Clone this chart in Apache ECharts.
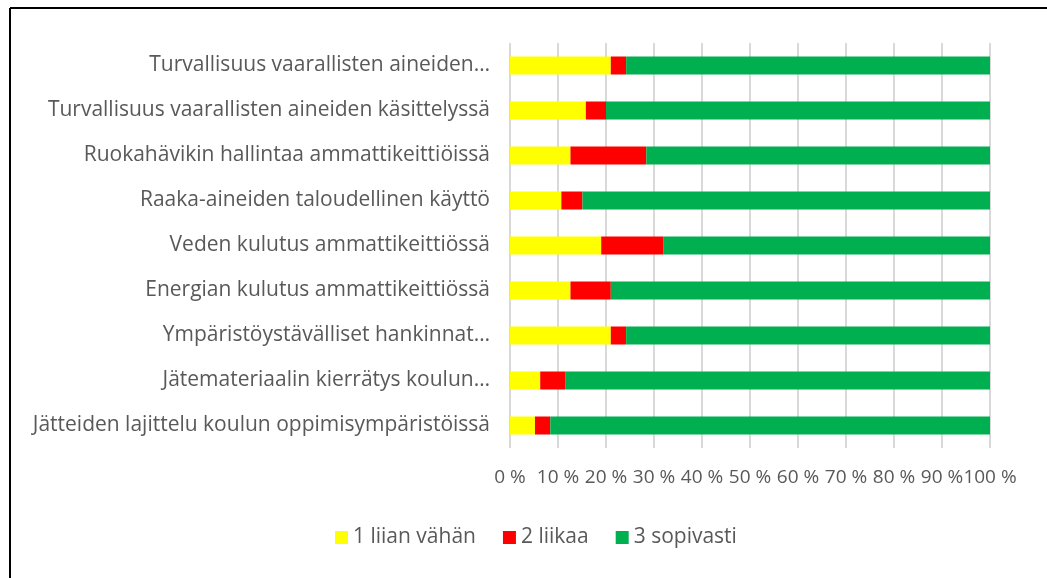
<!DOCTYPE html>
<html>
<head>
<meta charset="utf-8">
<script src="https://cdn.jsdelivr.net/npm/echarts@6/dist/echarts.min.js"></script>
<style>
html,body{margin:0;padding:0;background:#fff;}
#chart{width:1047px;height:578px;}
</style>
</head>
<body>
<div id="chart"></div>
<script>
const categories = [
  "Turvallisuus vaarallisten aineiden…",
  "Turvallisuus vaarallisten aineiden käsittelyssä",
  "Ruokahävikin hallintaa ammattikeittiöissä",
  "Raaka-aineiden taloudellinen käyttö",
  "Veden kulutus ammattikeittiössä",
  "Energian kulutus ammattikeittiössä",
  "Ympäristöystävälliset hankinnat…",
  "Jätemateriaalin kierrätys koulun…",
  "Jätteiden lajittelu koulun oppimisympäristöissä"
];
const seriesNames = ["1 liian vähän", "2 liikaa", "3 sopivasti"];
const liianVahan = [21.0, 15.8, 12.6, 10.7, 19.0, 12.6, 21.0, 6.3, 5.2];
const liikaa     = [3.2, 4.2, 15.8, 4.4, 12.9, 8.4, 3.2, 5.3, 3.2];
const sopivasti  = [75.8, 80.0, 71.6, 84.9, 68.1, 79.0, 75.8, 88.4, 91.6];
const colors = ["#FFFF00", "#FF0000", "#00B050"];

const FONT = "Open Sans";
const chart = echarts.init(document.getElementById('chart'), null, {renderer: 'canvas'});
const data = [liianVahan, liikaa, sopivasti];
chart.setOption({
  animation: false,
  backgroundColor: '#fff',
  textStyle: {fontFamily: FONT},
  grid: {left: 510, right: 57, top: 43, bottom: 130, containLabel: false},
  legend: {
    data: seriesNames,
    left: 330,
    top: 522,
    itemWidth: 13,
    itemHeight: 13,
    itemGap: 27,
    icon: 'rect',
    textStyle: {fontFamily: FONT, fontSize: 21, color: '#595959'}
  },
  xAxis: {
    type: 'value',
    min: 0, max: 100, interval: 10,
    axisLabel: {formatter: '{value} %', fontFamily: FONT, fontSize: 19, color: '#595959', margin: 20,
                hideOverlap: false},
    axisLine: {show: false},
    axisTick: {show: false},
    splitLine: {show: true, lineStyle: {color: '#D9D9D9', width: 2}}
  },
  yAxis: {
    type: 'category',
    inverse: true,
    data: categories,
    axisLabel: {fontFamily: FONT, fontSize: 21, color: '#595959', margin: 20},
    axisLine: {show: false},
    axisTick: {show: false}
  },
  series: seriesNames.map((n, i) => ({
    name: n,
    type: 'bar',
    stack: 'total',
    data: data[i],
    barWidth: 18,
    itemStyle: {color: colors[i]}
  })),
  graphic: [
    {type: 'line', shape: {x1: 10, y1: 8, x2: 1047, y2: 8}, style: {stroke: '#000', lineWidth: 2}},
    {type: 'line', shape: {x1: 10, y1: 8, x2: 10, y2: 578}, style: {stroke: '#000', lineWidth: 2}}
  ]
});
</script>
</body>
</html>
